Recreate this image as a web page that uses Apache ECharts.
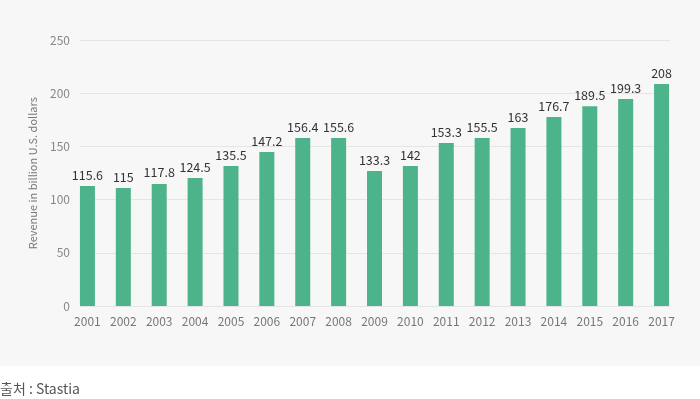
<!DOCTYPE html>
<html><head><meta charset="utf-8">
<script src="https://cdn.jsdelivr.net/npm/echarts@6/dist/echarts.min.js"></script>
<style>html,body{margin:0;padding:0;background:#fff}#c{width:700px;height:399px}</style>
</head><body><div id="c"></div>
<script>
var years = ['2001','2002','2003','2004','2005','2006','2007','2008','2009','2010','2011','2012','2013','2014','2015','2016','2017'];
var barHeights = [112.9,111,114.8,120.4,131.7,144.9,158,158,127,131.7,153.3,158,167.4,177.8,188,194.7,208.8];
var labelTexts = ['115.6','115','117.8','124.5','135.5','147.2','156.4','155.6','133.3','142','153.3','155.5','163','176.7','189.5','199.3','208'];
var yTicks = [0,50,100,150,200,250];
var yName = 'Revenue in billion U.S. dollars';
var sourceText = '출처 : Stastia';

var font = '"Noto Sans CJK KR","Noto Sans",sans-serif';
var chart = echarts.init(document.getElementById('c'));
chart.setOption({
  backgroundColor: '#ffffff',
  animation: false,
  graphic: [
    {type:'rect', z:-10, shape:{x:0,y:0,width:700,height:366}, style:{fill:'#f7f7f7'}},
    {type:'text', left:0, top:382, style:{text:sourceText, fill:'#555', font:'14px '+font}}
  ],
  grid: [
    {left:80, right:30, top:40.3, bottom:93},
    {left:69.5, right:20.5, top:40.3, bottom:93}
  ],
  xAxis: [
    {gridIndex:0, type:'category', data:years, show:false},
    {gridIndex:1, type:'category', data:years,
     axisLine:{show:false}, axisTick:{show:false},
     axisLabel:{color:'#777', fontSize:12, fontFamily:font, margin:9, interval:0}}
  ],
  yAxis: [
    {gridIndex:0, type:'value', min:yTicks[0], max:yTicks[yTicks.length-1], interval:50,
     name:yName, nameLocation:'middle', nameGap:42, nameRotate:90,
     nameTextStyle:{color:'#777', fontSize:11, fontFamily:font},
     axisLine:{show:false}, axisTick:{show:false},
     axisLabel:{color:'#888', fontSize:12, fontFamily:font, margin:10},
     splitLine:{lineStyle:{color:'#e5e5e5', width:1}}},
    {gridIndex:1, type:'value', min:yTicks[0], max:yTicks[yTicks.length-1], interval:50, show:false, splitLine:{show:false}}
  ],
  series: [
    {type:'bar', xAxisIndex:1, yAxisIndex:1, data:barHeights, barWidth:15,
     itemStyle:{color:'#4db38a'},
     label:{show:true, position:'top', distance:5, color:'#333', fontSize:12.5, fontFamily:font,
       formatter:function(p){return labelTexts[p.dataIndex];}}}
  ]
});
</script></body></html>
